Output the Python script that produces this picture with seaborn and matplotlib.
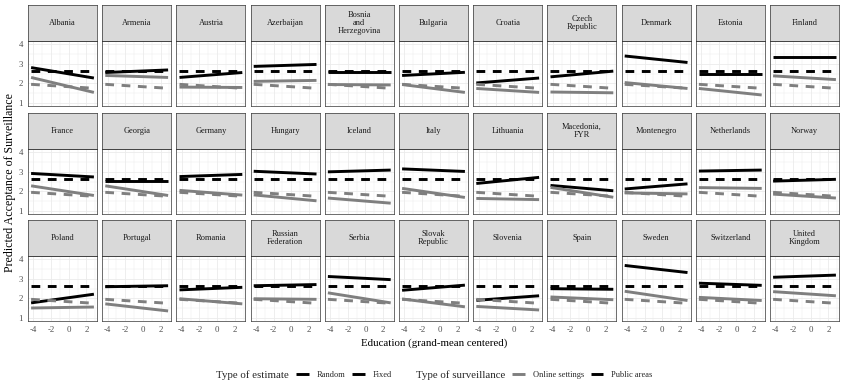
import matplotlib
matplotlib.use("Agg")
import matplotlib.pyplot as plt
import seaborn as sns
import numpy as np
import pandas as pd
from matplotlib.lines import Line2D

# ---------------- data ----------------
countries = ["Albania", "Armenia", "Austria", "Azerbaijan", "Bosnia and Herzegovina",
             "Bulgaria", "Croatia", "Czech Republic", "Denmark", "Estonia", "Finland",
             "France", "Georgia", "Germany", "Hungary", "Iceland", "Italy", "Lithuania",
             "Macedonia, FYR", "Montenegro", "Netherlands", "Norway",
             "Poland", "Portugal", "Romania", "Russian Federation", "Serbia",
             "Slovak Republic", "Slovenia", "Spain", "Sweden", "Switzerland", "United Kingdom"]
strip_labels = ["Albania", "Armenia", "Austria", "Azerbaijan", "Bosnia\nand\nHerzegovina",
                "Bulgaria", "Croatia", "Czech\nRepublic", "Denmark", "Estonia", "Finland",
                "France", "Georgia", "Germany", "Hungary", "Iceland", "Italy", "Lithuania",
                "Macedonia,\nFYR", "Montenegro", "Netherlands", "Norway",
                "Poland", "Portugal", "Romania", "Russian\nFederation", "Serbia",
                "Slovak\nRepublic", "Slovenia", "Spain", "Sweden", "Switzerland", "United\nKingdom"]

education = [-4.25, 2.85]

public_start = [2.80, 2.55, 2.30, 2.86, 2.58, 2.40, 2.02, 2.33, 3.39, 2.50, 3.32,
                2.91, 2.55, 2.75, 3.02, 2.99, 3.14, 2.40, 2.30, 2.12, 3.03, 2.52,
                1.77, 2.59, 2.43, 2.64, 3.11, 2.41, 1.90, 2.49, 3.67, 2.77, 3.07]
public_end   = [2.27, 2.68, 2.55, 2.96, 2.58, 2.56, 2.27, 2.62, 3.06, 2.50, 3.32,
                2.73, 2.55, 2.86, 2.88, 3.08, 3.01, 2.71, 2.03, 2.38, 3.08, 2.61,
                2.21, 2.64, 2.56, 2.70, 2.95, 2.67, 2.13, 2.46, 3.31, 2.66, 3.18]
online_start = [2.30, 2.40, 1.81, 2.10, 1.94, 1.94, 1.74, 1.56, 2.04, 1.74, 2.38,
                2.28, 2.28, 2.05, 1.82, 1.66, 2.15, 1.64, 2.20, 1.92, 2.19, 1.86,
                1.51, 1.72, 1.98, 1.98, 2.28, 1.97, 1.59, 2.07, 2.36, 2.05, 2.34]
online_end   = [1.54, 2.30, 1.79, 2.15, 1.92, 1.54, 1.54, 1.52, 1.74, 1.41, 2.19,
                1.79, 1.79, 1.81, 1.52, 1.40, 1.69, 1.58, 1.70, 1.87, 2.15, 1.66,
                1.56, 1.36, 1.72, 1.95, 1.77, 1.57, 1.41, 1.93, 1.89, 1.89, 2.13]
fixed_public = [2.65, 2.65]
fixed_online = [1.95, 1.75]

rows = []
for i, c in enumerate(countries):
    for j, x in enumerate(education):
        rows.append((c, x, "Random", "Public areas", [public_start[i], public_end[i]][j]))
        rows.append((c, x, "Random", "Online settings", [online_start[i], online_end[i]][j]))
        rows.append((c, x, "Fixed", "Public areas", fixed_public[j]))
        rows.append((c, x, "Fixed", "Online settings", fixed_online[j]))
df = pd.DataFrame(rows, columns=["country", "education", "estimate", "surveillance", "value"])

# ---------------- style ----------------
sns.set_style("white")
plt.rcParams["font.family"] = ["Liberation Serif", "DejaVu Serif"]
plt.rcParams["lines.solid_capstyle"] = "butt"
plt.rcParams["lines.dash_capstyle"] = "butt"
plt.rcParams["axes.unicode_minus"] = False

GREY20 = "#333333"
GREY30 = "#4D4D4D"
GRID = "#EBEBEB"
STRIP = "#D9D9D9"
palette = {"Public areas": "black", "Online settings": "#7F7F7F"}
dashes = {"Random": "", "Fixed": (3.0, 2.6)}
LW = 2.1

W, H = 841, 386
fig = plt.figure(figsize=(W / 100, H / 100), dpi=100)

left0, colstep, pw = 28, 74.2, 69
strip_tops = [5, 113, 220]
sh, ph = 36, 65
ncol = 11

for i, c in enumerate(countries):
    r, col = divmod(i, ncol)
    L = left0 + col * colstep
    top = strip_tops[r]
    ax = fig.add_axes([L / W, (H - (top + sh + ph)) / H, pw / W, ph / H])
    sax = fig.add_axes([L / W, (H - (top + sh)) / H, pw / W, sh / H])
    sax.set_facecolor(STRIP)
    sax.set_xticks([]); sax.set_yticks([])
    for sp in sax.spines.values():
        sp.set_color(GREY20); sp.set_linewidth(0.5)
    sax.text(0.5, 0.5, strip_labels[i], ha="center", va="center", fontsize=6.0,
             color="#1A1A1A", transform=sax.transAxes, linespacing=0.95)

    sub = df[df.country == c]
    sns.lineplot(data=sub, x="education", y="value", hue="surveillance", style="estimate",
                 hue_order=["Public areas", "Online settings"], style_order=["Random", "Fixed"],
                 palette=palette, dashes=dashes, linewidth=LW, legend=False,
                 estimator=None, ax=ax)
    ax.set_xlim(-4.6, 3.2)
    ax.set_ylim(0.85, 4.15)
    ax.set_xticks([-4, -2, 0, 2])
    ax.set_xticks([-3, -1, 1, 3], minor=True)
    ax.set_yticks([1, 2, 3, 4])
    ax.set_yticks([1.5, 2.5, 3.5], minor=True)
    ax.grid(True, which="major", color=GRID, linewidth=0.6, zorder=0)
    ax.grid(True, which="minor", color=GRID, linewidth=0.35, zorder=0)
    ax.set_axisbelow(True)
    for sp in ax.spines.values():
        sp.set_color(GREY20); sp.set_linewidth(0.5)
    ax.set_xlabel(""); ax.set_ylabel("")
    ax.tick_params(which="minor", length=0)
    ax.tick_params(which="major", length=2.2, width=0.5, color=GREY20,
                   labelsize=6.3, labelcolor=GREY30, pad=1.5)
    bottom_row = (i + ncol >= len(countries))
    if not bottom_row:
        ax.tick_params(axis="x", which="major", length=0, labelbottom=False)
    if col != 0:
        ax.tick_params(axis="y", which="major", length=0, labelleft=False)

fig.text(434 / W, 1 - 343 / H, "Education (grand-mean centered)", ha="center", va="center",
         fontsize=7.8, color="black")
fig.text(10 / W, 1 - 182 / H, "Predicted Acceptance of Surveillance", ha="center", va="center",
         rotation=90, fontsize=8.6, color="black")

# legends
ly = 1 - 375 / H
fig.text(216 / W, ly, "Type of estimate", ha="left", va="center", fontsize=7.8)
fig.text(416 / W, ly, "Type of surveillance", ha="left", va="center", fontsize=7.8)
h1 = [Line2D([], [], color="black", lw=LW, solid_capstyle="butt"),
      Line2D([], [], color="black", lw=LW, dashes=(5.5, 2.6), dash_capstyle="butt")]
h2 = [Line2D([], [], color="#7F7F7F", lw=LW, solid_capstyle="butt"),
      Line2D([], [], color="black", lw=LW, solid_capstyle="butt")]
common = dict(loc="center left", ncol=2, frameon=False, fontsize=6.0, handlelength=1.5,
              handletextpad=1.0, columnspacing=0.8, borderpad=0, borderaxespad=0)
leg1 = fig.legend(h1, ["Random", "Fixed"], bbox_to_anchor=(296 / W, ly), **common)
leg2 = fig.legend(h2, ["Online settings", "Public areas"], bbox_to_anchor=(512 / W, ly), **common)

fig.savefig("out.png", dpi=100)
